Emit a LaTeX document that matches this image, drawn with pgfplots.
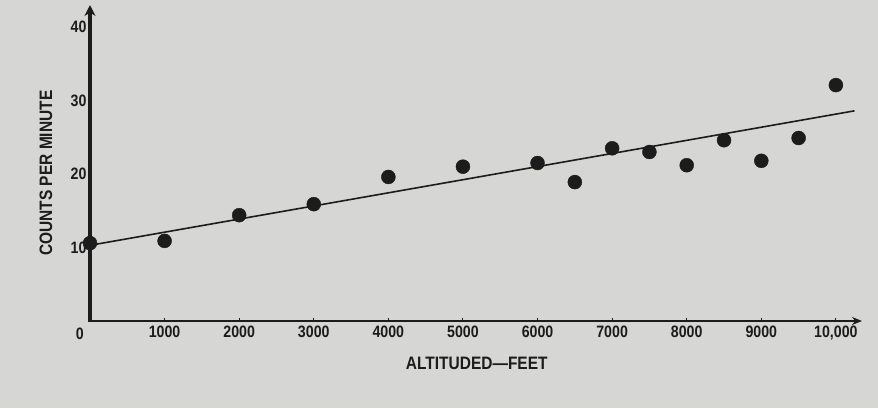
\documentclass[border=0pt]{standalone}
\usepackage{fontspec}
\setmainfont{Liberation Sans}[FakeStretch=0.86]
\usepackage{pgfplots}
\pgfplotsset{compat=1.18}
\usetikzlibrary{arrows.meta}
\definecolor{bg}{RGB}{214,214,212}
\definecolor{ink}{RGB}{28,28,28}

\begin{document}
\begin{tikzpicture}
\fill[bg] (0,0) rectangle (878pt,408pt);
\begin{axis}[
  at={(90pt,87pt)},anchor=south west,
  scale only axis,width=772pt,height=316pt,
  xmin=0,xmax=10350,ymin=0,ymax=43,
  axis lines=left,
  axis line style={draw=none},
  xtick={1000,2000,...,9000,10000},
  xticklabels={1000,2000,3000,4000,5000,6000,7000,8000,9000,{10,000}},
  scaled x ticks=false,
  ytick={10,20,30,40},
  /pgf/number format/assume math mode=true,
  tick align=inside,
  major tick length=3pt,
  xtick style={ink,line width=1pt},
  ytick style={draw=none},
  ticklabel style={font=\fontsize{16.5}{16.5}\selectfont\bfseries,text=ink},
  xticklabel style={yshift=-1pt},
  yticklabel style={xshift=0pt},
  clip=false,
  xlabel={ALTITUDED---FEET},
  ylabel={COUNTS PER MINUTE},
  label style={font=\fontsize{18}{18}\selectfont\bfseries,text=ink},
  xlabel style={at={(axis description cs:0.501,-0.133)},anchor=center},
  ylabel style={at={(axis description cs:-0.057,0.468)},anchor=center},
]
% axis lines
\draw[ink,line width=2pt,-{Stealth[length=10pt,width=8pt]}] (axis cs:0,0) -- (axis cs:10350,0);
\draw[ink,line width=3.8pt,-{Stealth[length=11pt,width=11pt]}] (axis cs:0,-0.15) -- (axis cs:0,43);
% fitted line
\addplot[ink,line width=1.6pt] coordinates {(0,10.3) (10250,28.6)};
% measurements
\addplot[only marks,mark=*,mark size=7pt,ink] coordinates {
  (0,10.6) (1000,10.9) (2000,14.4) (3000,15.9) (4000,19.6)
  (5000,21.0) (6000,21.5) (6500,18.9) (7000,23.5) (7500,23.0)
  (8000,21.2) (8500,24.6) (9000,21.8) (9500,24.9) (10000,32.1)
};
\node[anchor=north east,font=\fontsize{16.5}{16.5}\selectfont\bfseries,text=ink,inner sep=0pt] at (axis cs:0,0) [xshift=-6pt,yshift=-7pt] {0};
\end{axis}
\end{tikzpicture}
\end{document}
